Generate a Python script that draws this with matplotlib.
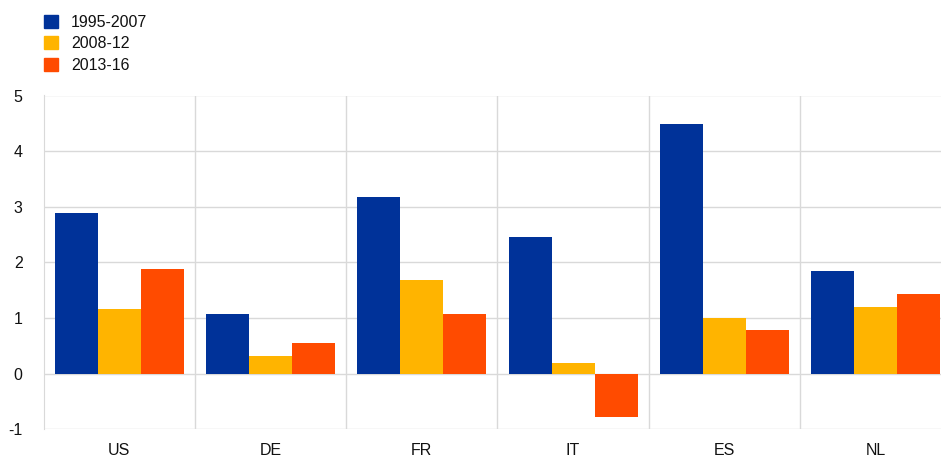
import matplotlib
matplotlib.use("Agg")
import matplotlib.pyplot as plt
import numpy as np
from matplotlib.patches import Patch

categories = ["US", "DE", "FR", "IT", "ES", "NL"]
series_names = ["1995-2007", "2008-12", "2013-16"]
s1995_2007 = [2.88, 1.07, 3.17, 2.45, 4.48, 1.84]
s2008_12 = [1.17, 0.31, 1.68, 0.20, 1.00, 1.19]
s2013_16 = [1.88, 0.56, 1.08, -0.77, 0.78, 1.43]
colors = ["#003299", "#FFB400", "#FF4B00"]
yticks = [-1, 0, 1, 2, 3, 4, 5]

plt.rcParams['font.family'] = ['Liberation Sans', 'DejaVu Sans']
fig = plt.figure(figsize=(9.41, 4.57), dpi=100)
ax = fig.add_axes([43.5/941, 1-429.3/457, 6*151.3/941, (429.3-95.5)/457])

x = np.arange(len(categories))
w = 0.284
for i, (vals, c) in enumerate(zip([s1995_2007, s2008_12, s2013_16], colors)):
    ax.bar(x + (i-1)*w, vals, width=w, color=c, zorder=3, linewidth=0)

ax.set_xlim(-0.5, len(categories)-0.5)
ax.set_ylim(-1, 5)
ax.set_yticks(yticks)
ax.set_yticklabels([str(t) for t in yticks])
ax.set_xticks(x)
ax.set_xticklabels(categories)
grid_c = "#d9d9d9"
for t in yticks:
    ax.axhline(t, color=grid_c, lw=1, zorder=1)
for b in np.arange(0.5, len(categories)-0.5, 1):
    ax.axvline(b, color=grid_c, lw=1, zorder=1)
for s in ["top", "right", "bottom"]:
    ax.spines[s].set_visible(False)
ax.spines["left"].set_color(grid_c)
ax.tick_params(axis='both', length=0, labelsize=11.5, colors="#111111")
ax.tick_params(axis='y', pad=15)
ax.tick_params(axis='x', pad=10)

handles = [Patch(color=c, label=n) for c, n in zip(colors, series_names)]
fig.legend(handles=handles, loc="upper left", bbox_to_anchor=(44/941, 1-15/457),
           frameon=False, fontsize=11.5, handlelength=0.85, handleheight=0.85,
           handletextpad=0.85, labelspacing=0.4, borderpad=0, borderaxespad=0,
           labelcolor="#111111")

fig.savefig("out.png", dpi=100)
